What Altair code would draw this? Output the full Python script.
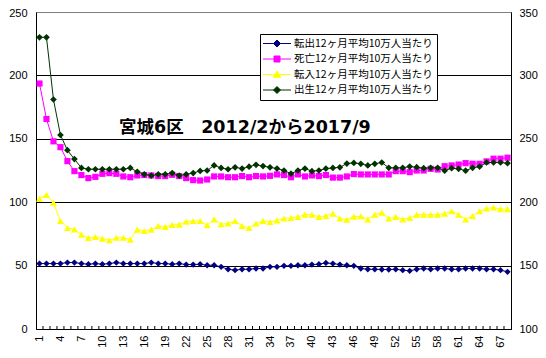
import altair as alt
import pandas as pd

months = list(range(1, 69))

tenshutsu = [51.6, 51.6, 51.6, 51.6, 52.4, 52.4, 51.6, 51.1, 51.6, 51.1,
             51.6, 52.4, 51.6, 51.6, 51.6, 51.6, 52.4, 51.6, 51.6, 51.1,
             51.6, 50.8, 50.8, 51.1, 50.3, 50.3, 49.0, 47.1, 46.4, 47.1,
             47.1, 47.7, 47.7, 49.0, 49.0, 49.8, 49.8, 50.3, 50.3, 50.8,
             51.1, 52.1, 51.6, 50.8, 50.3, 49.8, 47.7, 47.1, 47.1, 46.9,
             46.9, 47.1, 46.4, 45.9, 47.1, 47.7, 47.1, 47.7, 47.7, 47.1,
             47.1, 47.7, 47.7, 47.7, 47.1, 47.1, 46.4, 45.1]

shibou = [193.6, 165.6, 148.0, 143.4, 132.4, 124.5, 121.4, 119.0, 120.0, 122.4,
          122.9, 122.4, 120.3, 119.7, 121.1, 121.4, 121.1, 120.6, 120.6, 121.6,
          120.6, 119.0, 117.4, 117.1, 117.9, 120.3, 120.3, 119.7, 119.7, 120.6,
          119.7, 120.6, 120.3, 120.8, 121.9, 121.4, 119.7, 121.9, 120.3, 121.1,
          120.6, 121.4, 119.4, 119.4, 120.3, 122.2, 121.9, 121.9, 121.9, 121.9,
          121.9, 124.5, 124.5, 123.7, 125.0, 125.0, 126.3, 125.8, 128.4, 129.0,
          129.7, 130.8, 130.3, 130.3, 132.2, 134.3, 134.3, 135.1]

tennyu = [102.7, 105.8, 99.6, 85.2, 79.7, 78.6, 74.4, 71.8, 72.6, 71.3,
          70.0, 72.0, 72.0, 70.5, 78.4, 77.3, 78.4, 81.3, 80.5, 82.1,
          82.3, 84.7, 85.2, 85.2, 81.8, 86.5, 82.6, 83.2, 85.2, 81.3,
          79.7, 83.2, 85.2, 84.4, 85.7, 87.1, 87.6, 88.4, 90.2, 90.2,
          88.4, 89.2, 91.0, 87.1, 86.3, 88.6, 88.9, 86.5, 90.2, 91.8,
          87.1, 88.4, 86.5, 87.6, 90.2, 90.2, 90.2, 90.2, 91.0, 92.9,
          90.2, 86.5, 89.1, 92.9, 95.0, 95.8, 94.5, 94.5]

shussei = [230.0, 230.0, 181.0, 153.0, 141.0, 134.0, 127.0, 126.0, 126.0, 126.0,
           126.0, 126.0, 126.0, 127.0, 124.0, 122.0, 121.0, 122.0, 122.0, 123.0,
           121.0, 122.0, 123.0, 124.7, 125.0, 129.0, 127.0, 126.0, 127.5, 126.5,
           128.0, 129.5, 128.5, 127.5, 126.5, 125.0, 122.5, 125.0, 126.5, 124.5,
           125.0, 126.5, 127.0, 127.5, 130.5, 131.0, 130.3, 129.0, 130.3, 131.3,
           127.1, 127.1, 127.1, 128.1, 127.6, 126.8, 127.1, 127.1, 124.9, 126.8,
           126.3, 124.9, 127.1, 128.1, 131.3, 131.3, 131.3, 130.8]

series_names = ["転出12ヶ月平均10万人当たり", "死亡12ヶ月平均10万人当たり",
                "転入12ヶ月平均10万人当たり", "出生12ヶ月平均10万人当たり"]
colors = ["#000080", "#FF00FF", "#FFFF00", "#003300"]
shapes = ["diamond", "square", "triangle-up", "diamond"]
sizes = [40, 38, 50, 45]
legend_paths = [
    "M-2.8,0H2.8M0,-0.7L0.7,0L0,0.7L-0.7,0Z",
    "M-2.8,0H2.8M-0.6,-0.6H0.6V0.6H-0.6Z",
    "M-2.8,0H2.8M0,-0.7L0.75,0.55H-0.75Z",
    "M-2.8,0H2.8M0,-0.7L0.7,0L0,0.7L-0.7,0Z",
]
left_ticks = [0, 50, 100, 150, 200, 250]
right_ticks = [100, 150, 200, 250, 300, 350]
x_labels = list(range(1, 68, 3))
title_text = "宮城6区　2012/2から2017/9"

rows = []
for name, vals in zip(series_names, [tenshutsu, shibou, tennyu, shussei]):
    for m, v in zip(months, vals):
        rows.append({"month": m, "series": name, "value": v})
df = pd.DataFrame(rows)

x_axis = alt.Axis(values=x_labels, orient="bottom", labelAngle=270,
                  labelAlign="right", labelBaseline="middle",
                  labelOverlap=False, labelFlush=False, ticks=False, grid=False,
                  domainColor="black", labelFont="Liberation Sans",
                  labelFontSize=11, labelColor="black", labelPadding=6,
                  title=None)
x_scale = alt.Scale(domain=[0.5, len(months) + 0.5], nice=False, zero=False)
x_enc = alt.X("month:Q", scale=x_scale, axis=x_axis)
y_enc = alt.Y(
    "value:Q",
    scale=alt.Scale(domain=[0, 250], nice=False),
    axis=alt.Axis(values=left_ticks, grid=True,
                  gridColor={"condition": {"test": "datum.value == 250", "value": "#808080"},
                             "value": "black"},
                  gridOpacity=1, ticks=False, domainColor="black",
                  labelFont="Liberation Sans", labelFontSize=11,
                  labelColor="black", labelPadding=9, title=None,
                  labelOffset={"condition": {"test": "datum.value == 250", "value": 1.5},
                               "value": 0}),
)

base = alt.Chart(df)
layers = []
for name, col, shp, sz in zip(series_names, colors, shapes, sizes):
    sub = base.transform_filter(alt.datum.series == name)
    layers.append(sub.mark_line(color=col, strokeWidth=1).encode(x=x_enc, y=y_enc))
    layers.append(sub.mark_point(color=col, shape=shp, size=sz, filled=True, opacity=1)
                  .encode(x=x_enc, y=y_enc))

# inside tick marks at category boundaries
bounds = pd.DataFrame({"month": [m + 0.5 for m in months[:-1]]})
ticks = alt.Chart(bounds).mark_rule(color="black", strokeWidth=1).encode(
    x=x_enc, y=alt.value(317), y2=alt.value(314))
layers.append(ticks)

# legend
leg = alt.Legend(title=None, orient="none", legendX=224, legendY=22,
                 direction="vertical", fillColor="white", strokeColor="black",
                 padding=4, symbolSize=100, symbolOffset=7.5, labelOffset=11.5,
                 labelFont="Noto Sans CJK JP", labelFontSize=10.5,
                 labelColor="black", rowPadding=4.5, symbolStrokeWidth=1,
                 cornerRadius=0, offset=0, labelLimit=300)
legend_layer = base.transform_filter("false").mark_point(
    filled=True, size=100, strokeWidth=1, opacity=1).encode(
    color=alt.Color("series:N", scale=alt.Scale(domain=series_names, range=colors), legend=leg),
    stroke=alt.Stroke("series:N", scale=alt.Scale(domain=series_names, range=colors), legend=leg),
    shape=alt.Shape("series:N", scale=alt.Scale(domain=series_names, range=legend_paths), legend=leg),
)
layers.append(legend_layer)

title_layer = alt.Chart(pd.DataFrame({"t": [title_text]})).mark_text(
    font='"DejaVu Sans", "Noto Sans CJK JP"', fontSize=17.5, fontWeight="bold",
    align="left", baseline="middle", color="black").encode(
    x=alt.value(83), y=alt.value(116), text="t:N")
layers.append(title_layer)

left = alt.layer(*layers)

right = base.transform_filter(alt.datum.series == series_names[0]).transform_calculate(
    v2="datum.value + 100").mark_line(opacity=0).encode(
    x=x_enc,
    y=alt.Y("v2:Q", scale=alt.Scale(domain=[100, 350], nice=False),
            axis=alt.Axis(orient="right", values=right_ticks, grid=False, ticks=False,
                          domainColor="black", labelFont="Liberation Sans",
                          labelFontSize=11, labelColor="black", labelPadding=8,
                          title=None,
                          labelOffset={"condition": {"test": "datum.value == 350", "value": 1.5},
                                       "value": 0})))

chart = alt.layer(left, right).resolve_scale(y="independent").properties(
    width=475, height=317,
    padding={"left": 28, "top": 4, "right": 27, "bottom": 21},
    autosize=alt.AutoSizeParams(type="none"),
).configure(background="white").configure_view(
    fill="#C0C0C0", stroke="#808080", strokeWidth=1)

chart.save("out.html", embed_options={"renderer": "svg", "actions": False})
